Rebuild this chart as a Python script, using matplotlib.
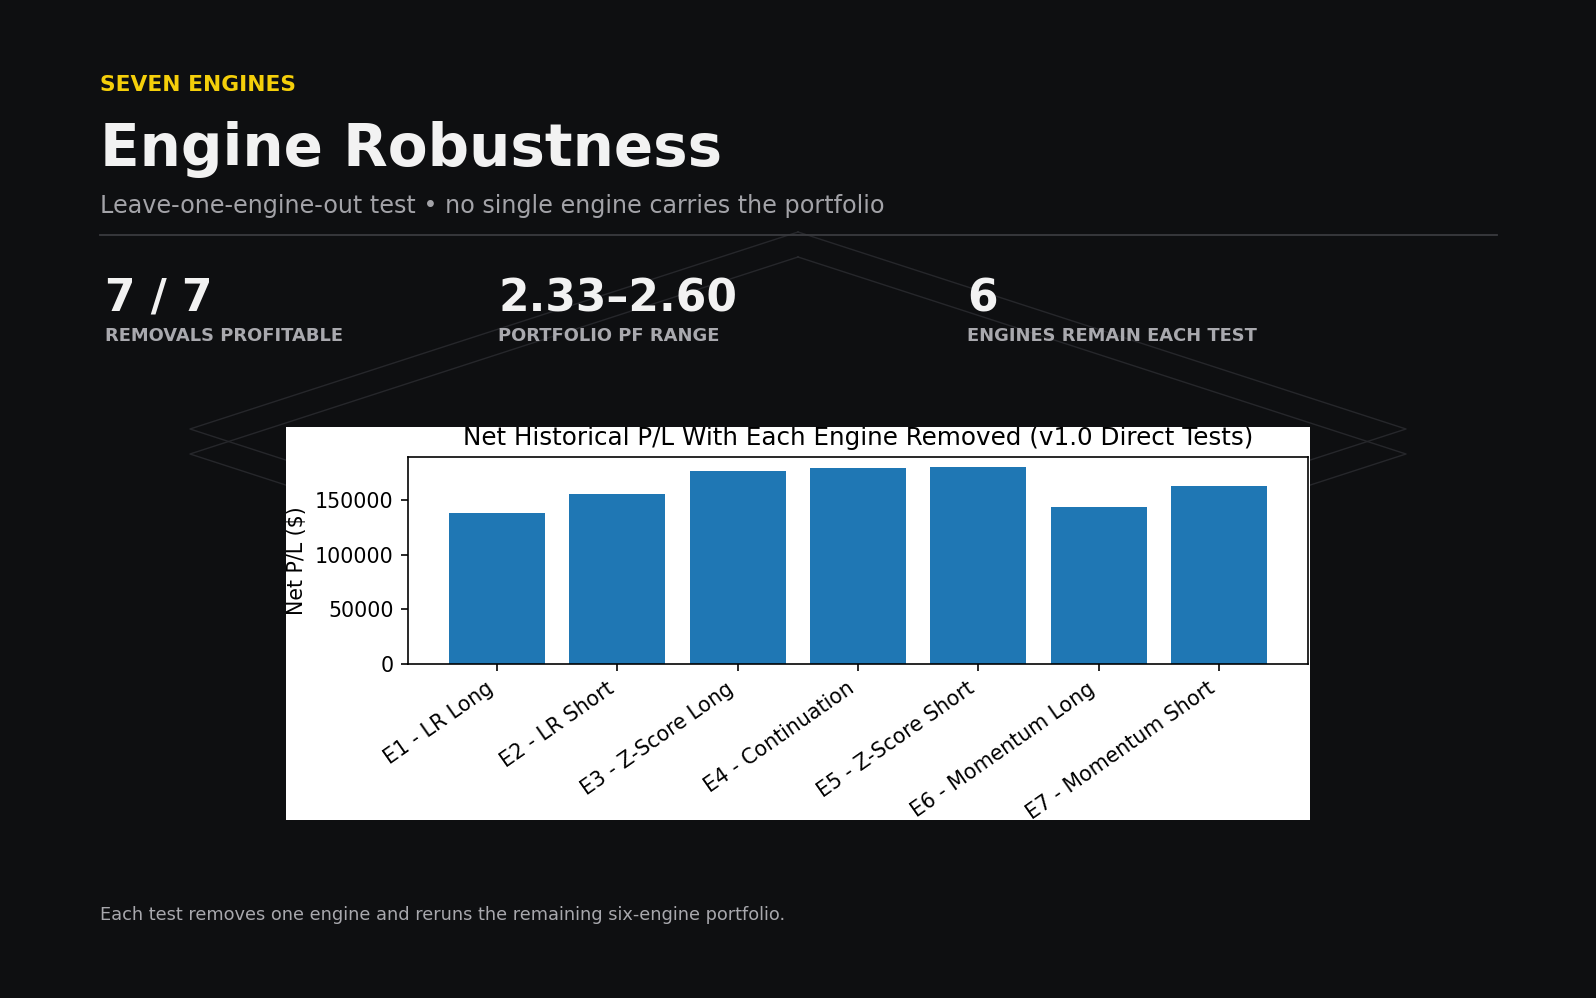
import matplotlib
matplotlib.use("Agg")
import matplotlib.pyplot as plt

# data
engines = ["E1 - LR Long", "E2 - LR Short", "E3 - Z-Score Long", "E4 - Continuation",
           "E5 - Z-Score Short", "E6 - Momentum Long", "E7 - Momentum Short"]
net_pl = [137800, 156000, 176300, 179600, 180500, 143500, 163400]

stat_values = ["7 / 7", "2.33\u20132.60", "6"]
stat_labels = ["REMOVALS PROFITABLE", "PORTFOLIO PF RANGE", "ENGINES REMAIN EACH TEST"]

W, H = 1596, 998
BG = "#0e0f11"

def fx(px):
    return px / W

def fy(py):
    return 1 - py / H

fig = plt.figure(figsize=(W / 100, H / 100), dpi=100, facecolor=BG)

# background layer in pixel coords for the decorative diamonds + divider
bg = fig.add_axes([0, 0, 1, 1], zorder=0)
bg.set_xlim(0, W)
bg.set_ylim(H, 0)
bg.axis("off")
for off in (0, 25):
    xs = [798, 1406, 798, 190, 798]
    ys = [232 + off, 429 + off, 626 + off, 429 + off, 232 + off]
    bg.plot(xs, ys, color="#26272b", lw=1.0)
bg.plot([100, 1497], [235, 235], color="#3a3b3f", lw=1.3)

# header text
fig.text(fx(100), fy(90.7), "SEVEN ENGINES", color="#f5cf0a", fontsize=15.7,
         fontweight="bold", va="baseline")
fig.text(fx(100), fy(166.5), "Engine Robustness", color="#f2f2f2", fontsize=41.8,
         fontweight="bold", va="baseline")
fig.text(fx(100), fy(212.5), "Leave-one-engine-out test \u2022 no single engine carries the portfolio",
         color="#a3a3a8", fontsize=17.2, va="baseline")

for x, v, lab in zip([105, 498, 967], stat_values, stat_labels):
    fig.text(fx(x), fy(311), v, color="#f2f2f2", fontsize=31.6, fontweight="bold", va="baseline")
    fig.text(fx(x), fy(341), lab, color="#a9a9ae", fontsize=12.9, fontweight="bold", va="baseline")

fig.text(fx(100), fy(920), "Each test removes one engine and reruns the remaining six-engine portfolio.",
         color="#a8a8ad", fontsize=12.8, va="baseline")

# white chart panel
panel = fig.add_axes([fx(286), fy(820), fx(1310) - fx(286), fy(427) - fy(820)], zorder=1)
panel.set_facecolor("white")
panel.set_xticks([])
panel.set_yticks([])
for sp in panel.spines.values():
    sp.set_visible(False)

s = 1.48  # chart was rendered larger than default
ax = fig.add_axes([fx(408), fy(664), fx(1308) - fx(408), fy(457) - fy(664)], zorder=2)
ax.bar(engines, net_pl, color="C0")
ax.set_title("Net Historical P/L With Each Engine Removed (v1.0 Direct Tests)",
             fontsize=12 * s, pad=6 * s)
ax.set_ylabel("Net P/L ($)", fontsize=10 * s, labelpad=4 * s)
ax.tick_params(labelsize=10 * s, length=3.5 * s, width=0.8 * s, pad=3.5 * s)
for sp in ax.spines.values():
    sp.set_linewidth(0.8 * s)
plt.setp(ax.get_xticklabels(), rotation=35, ha="right")
for lbl in ax.get_xticklabels() + [ax.yaxis.label, ax.title]:
    lbl.set_clip_path(panel.patch)

fig.savefig("out.png", dpi=100, facecolor=BG)
